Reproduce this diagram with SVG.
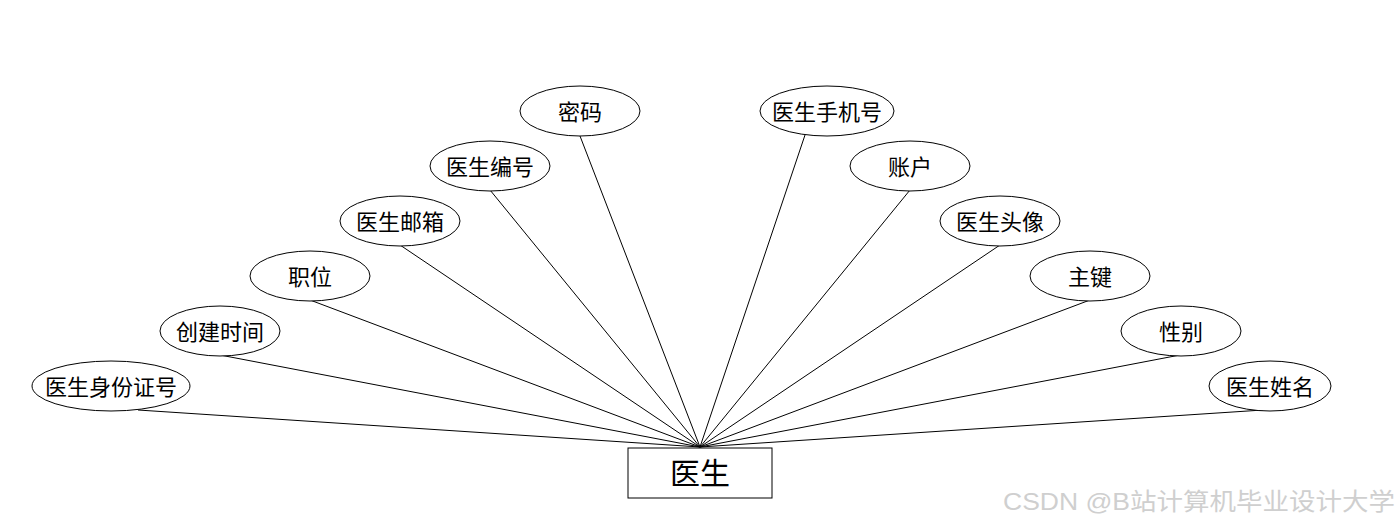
<svg xmlns="http://www.w3.org/2000/svg" width="1400" height="528" viewBox="0 0 1400 528">
<style>
.n ellipse{fill:#fff;stroke:#000;stroke-width:1}
.n text{font-family:"Noto Sans CJK SC","Microsoft YaHei",sans-serif;font-size:22px;fill:#000;text-anchor:middle;dominant-baseline:central}
#conn line{stroke:#000;stroke-width:1}
.wm{font-family:"Liberation Sans","Noto Sans CJK SC",sans-serif;font-size:24px;fill:#cfcfcf}
</style>
<rect width="1400" height="528" fill="#fff"/>
<g id="conn">
<line x1="580" y1="136" x2="700" y2="447"/>
<line x1="490" y1="190" x2="700" y2="447"/>
<line x1="400" y1="245" x2="700" y2="447"/>
<line x1="310" y1="300" x2="700" y2="447"/>
<line x1="220" y1="355" x2="700" y2="447"/>
<line x1="138" y1="410" x2="700" y2="447"/>
<line x1="805" y1="135" x2="700" y2="447"/>
<line x1="910" y1="190" x2="700" y2="447"/>
<line x1="1000" y1="245" x2="700" y2="447"/>
<line x1="1090" y1="300" x2="700" y2="447"/>
<line x1="1180" y1="355" x2="700" y2="447"/>
<line x1="1263" y1="410" x2="700" y2="447"/>
</g>
<g id="n1" class="n"><ellipse cx="580" cy="111" rx="60" ry="25"/><text x="580" y="110">密码</text></g>
<g id="n2" class="n"><ellipse cx="490" cy="166" rx="60" ry="25"/><text x="490" y="165">医生编号</text></g>
<g id="n3" class="n"><ellipse cx="400" cy="221" rx="60" ry="25"/><text x="400" y="220">医生邮箱</text></g>
<g id="n4" class="n"><ellipse cx="310" cy="276" rx="60" ry="25"/><text x="310" y="275">职位</text></g>
<g id="n5" class="n"><ellipse cx="220" cy="331" rx="60" ry="25"/><text x="220" y="330">创建时间</text></g>
<g id="n6" class="n"><ellipse cx="111" cy="386" rx="79" ry="25"/><text x="111" y="385">医生身份证号</text></g>
<g id="n7" class="n"><ellipse cx="827" cy="111" rx="67" ry="25"/><text x="827" y="110">医生手机号</text></g>
<g id="n8" class="n"><ellipse cx="910" cy="166" rx="60" ry="25"/><text x="910" y="165">账户</text></g>
<g id="n9" class="n"><ellipse cx="1000" cy="221" rx="60" ry="25"/><text x="1000" y="220">医生头像</text></g>
<g id="n10" class="n"><ellipse cx="1090" cy="276" rx="60" ry="25"/><text x="1090" y="275">主键</text></g>
<g id="n11" class="n"><ellipse cx="1181" cy="331" rx="60" ry="25"/><text x="1181" y="330">性别</text></g>
<g id="n12" class="n"><ellipse cx="1270" cy="386" rx="61" ry="25"/><text x="1270" y="385">医生姓名</text></g>
<g id="main" class="n"><rect x="628" y="448" width="144" height="50" fill="#fff" stroke="#000" stroke-width="1"/><text x="700" y="471" style="font-size:30px">医生</text></g>
<text class="wm" x="1003" y="510" textLength="392" lengthAdjust="spacingAndGlyphs">CSDN @B站计算机毕业设计大学</text>
</svg>
